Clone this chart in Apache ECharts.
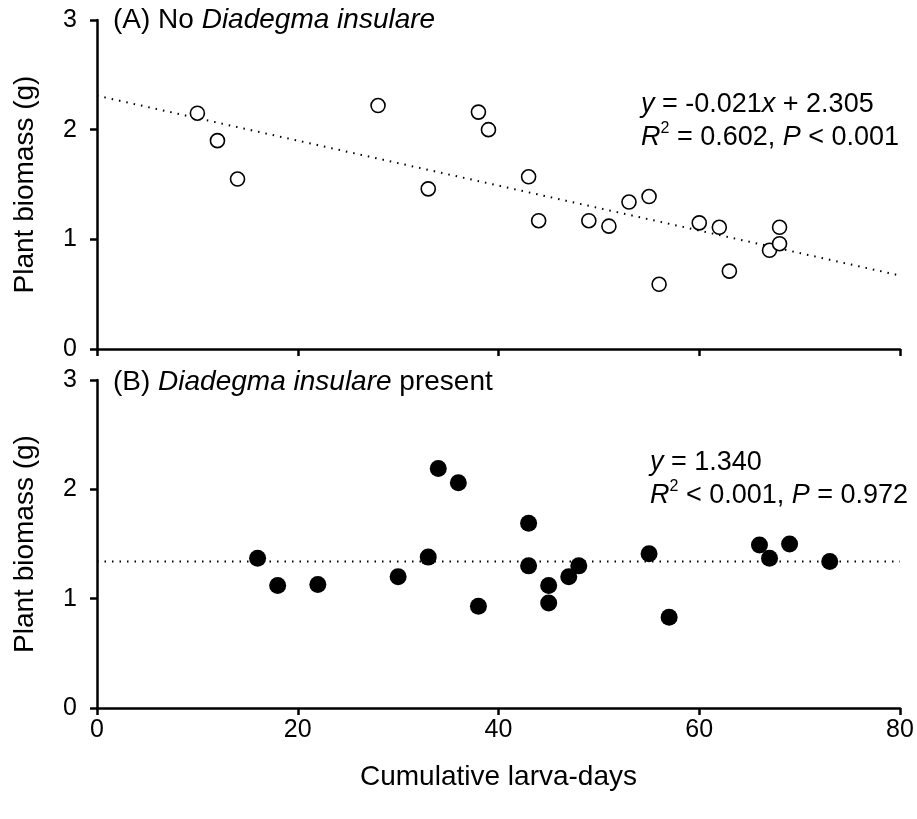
<!DOCTYPE html>
<html><head><meta charset="utf-8">
<script src="https://cdn.jsdelivr.net/npm/echarts@6/dist/echarts.min.js"></script>
<style>html,body{margin:0;padding:0;background:#fff}#c{width:917px;height:819px}</style>
</head><body><div id="c"></div>
<script>
// Panel A: No Diadegma insulare (open circles)
const xA = [10,12,14,28,33,38,39,43,44,49,51,53,55,56,60,62,63,67,68,68];
const yA = [2.15,1.90,1.55,2.22,1.46,2.16,2.00,1.57,1.17,1.17,1.12,1.34,1.39,0.59,1.15,1.11,0.71,0.90,1.11,0.96];
const fitA = [[0,2.31],[80,0.67]];
// Panel B: Diadegma insulare present (filled circles)
const xB = [16,18,22,30,33,34,36,38,43,43,45,45,47,48,55,57,66,67,69,73];
const yB = [1.37,1.12,1.13,1.20,1.38,2.19,2.06,0.93,1.69,1.30,1.12,0.96,1.20,1.30,1.41,0.83,1.49,1.37,1.50,1.34];
const fitB = [[0,1.34],[80,1.34]];
const xTicks = [0,20,40,60,80];
const yTicks = [0,1,2,3];

const FONT = 'Liberation Sans, Arial, sans-serif';
const zip = (a,b)=>a.map((v,i)=>[v,b[i]]);

const axisLine = {show:true, onZero:false, lineStyle:{color:'#000', width:2.5}};
const axisTick = {show:true, inside:false, length:7, lineStyle:{color:'#000', width:2.5}};

function xAxis(idx, showLabels){
  return {
    type:'value', gridIndex:idx, min:xTicks[0], max:xTicks[xTicks.length-1], interval:xTicks[1]-xTicks[0],
    axisLine, axisTick, splitLine:{show:false},
    axisLabel:{show:showLabels, color:'#000', fontSize:25, fontFamily:FONT, margin:10},
    name: showLabels ? 'Cumulative larva-days' : '',
    nameLocation:'middle', nameGap:55,
    nameTextStyle:{color:'#000', fontSize:28, fontFamily:FONT}
  };
}
function yAxis(idx){
  return {
    type:'value', gridIndex:idx, min:yTicks[0], max:yTicks[yTicks.length-1], interval:yTicks[1]-yTicks[0],
    axisLine, axisTick, splitLine:{show:false},
    axisLabel:{color:'#000', fontSize:25, fontFamily:FONT, margin:20},
    name:'Plant biomass (g)', nameLocation:'middle', nameGap:58, nameRotate:90,
    nameTextStyle:{color:'#000', fontSize:28, fontFamily:FONT}
  };
}
function mkRich(fs, lh){
  return {
    n:{fontSize:fs, fontFamily:FONT, color:'#000', fontWeight:'normal', lineHeight:lh},
    i:{fontSize:fs, fontFamily:FONT, color:'#000', fontWeight:'normal', fontStyle:'italic', lineHeight:lh},
    s:{fontSize:16, fontFamily:FONT, color:'#000', fontWeight:'normal', lineHeight:22, verticalAlign:'top'}
  };
}
const chart = echarts.init(document.getElementById('c'));
chart.setOption({
  backgroundColor:'#fff',
  animation:false,
  grid:[
    {left:97, top:20, width:803, height:329},
    {left:97, top:380, width:803, height:328}
  ],
  xAxis:[xAxis(0,false), xAxis(1,true)],
  yAxis:[yAxis(0), yAxis(1)],
  title:[
    {left:113, top:4, padding:0, text:'{n|(A) No }{i|Diadegma insulare}', textStyle:{rich:mkRich(28,32)}},
    {left:113, top:366, padding:0, text:'{n|(B) }{i|Diadegma insulare}{n| present}', textStyle:{rich:mkRich(28,32)}},
    {left:641, top:88, padding:0, text:'{i|y}{n| = -0.021}{i|x}{n| + 2.305}\n{i|R}{s|2}{n| = 0.602, }{i|P}{n| < 0.001}', textStyle:{rich:mkRich(27,33)}},
    {left:650, top:446, padding:0, text:'{i|y}{n| = 1.340}\n{i|R}{s|2}{n| < 0.001, }{i|P}{n| = 0.972}', textStyle:{rich:mkRich(27,33)}}
  ],
  series:[
    {type:'line', xAxisIndex:0, yAxisIndex:0, data:fitA, symbol:'none', silent:true,
     lineStyle:{color:'#000', width:2, type:[1.5,6]}, z:1},
    {type:'scatter', xAxisIndex:0, yAxisIndex:0, data:zip(xA,yA), symbol:'circle', symbolSize:14,
     itemStyle:{color:'#fff', borderColor:'#000', borderWidth:1.6, opacity:1}, z:3},
    {type:'line', xAxisIndex:1, yAxisIndex:1, data:fitB, symbol:'none', silent:true,
     lineStyle:{color:'#000', width:2, type:[1.5,6]}, z:1},
    {type:'scatter', xAxisIndex:1, yAxisIndex:1, data:zip(xB,yB), symbol:'circle', symbolSize:17,
     itemStyle:{color:'#000', borderColor:'#000', borderWidth:0, opacity:1}, z:3}
  ]
});
</script></body></html>
